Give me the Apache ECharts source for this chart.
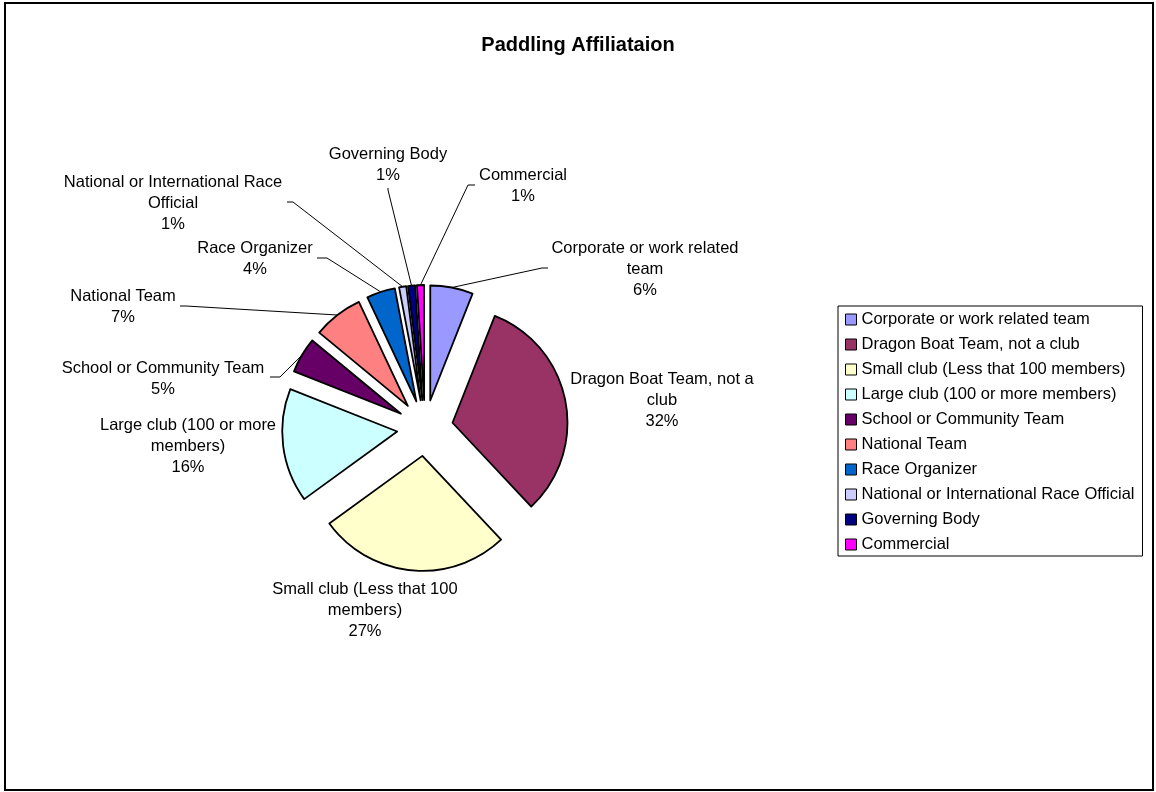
<!DOCTYPE html>
<html><head><meta charset="utf-8">
<script src="https://cdn.jsdelivr.net/npm/echarts@6/dist/echarts.min.js"></script>
<style>html,body{margin:0;padding:0;background:#fff}#c{width:1156px;height:792px}</style>
</head><body><div id="c"></div>
<script>
// ---- data ----
const categories = [
  'Corporate or work related team',
  'Dragon Boat Team, not a club',
  'Small club (Less that 100 members)',
  'Large club (100 or more members)',
  'School or Community Team',
  'National Team',
  'Race Organizer',
  'National or International Race Official',
  'Governing Body',
  'Commercial'
];
const percents = [6, 32, 27, 16, 5, 7, 4, 1, 1, 1];
const labelTexts = [
  'Corporate or work related\nteam',
  'Dragon Boat Team, not a\nclub',
  'Small club (Less that 100\nmembers)',
  'Large club (100 or more\nmembers)',
  'School or Community Team',
  'National Team',
  'Race Organizer',
  'National or International Race\nOfficial',
  'Governing Body',
  'Commercial'
];
const colors = ['#9999FF','#993366','#FFFFCC','#CCFFFF','#660066','#FF8080','#0066CC','#CCCCFF','#000080','#FF00FF'];

// ---- label layout (label centres and leader-line elbows) ----
const labelCenters = [[645,269],[662,400],[365,610],[188,446],[163,379],[123,307],[255,259],[173,203],[388,165],[523,186]];
const leaderEnds = [
  [[542,268],[548,268]], null, null, null,
  [[280,377],[270,377]],
  [[186,306],[180,306]],
  [[327,258],[317,258]],
  [[293,202],[287,202]],
  [[388,190],[388,188]],
  [[468,185],[475,185]]
];

const FONT = '"Liberation Sans", Arial, sans-serif';
const PIE_CENTER = [425, 428];
const PIE_R = 115;
const EXPLODE = 28;

const chart = echarts.init(document.getElementById('c'), null, {renderer: 'canvas'});

const sliceData = categories.map((name, i) => ({
  name: name,
  value: percents[i],
  selected: true,
  itemStyle: {color: colors[i]}
}));

const labelData = categories.map((name, i) => ({
  name: name,
  value: percents[i],
  label: {formatter: labelTexts[i] + '\n{d}%'},
  labelLine: {show: leaderEnds[i] != null}
}));

chart.setOption({
  animation: false,
  backgroundColor: '#fff',
  title: {
    text: 'Paddling Affiliataion',
    left: 'center',
    top: 30,
    textStyle: {fontSize: 20, fontWeight: 'bold', color: '#000', fontFamily: FONT}
  },
  legend: {
    orient: 'vertical',
    left: 838,
    top: 306,
    padding: [5, 8, 3, 7],
    itemGap: 8,
    itemWidth: 11,
    itemHeight: 11,
    icon: 'rect',
    borderColor: '#000',
    borderWidth: 1,
    selectedMode: false,
    itemStyle: {borderColor: '#000', borderWidth: 1},
    textStyle: {fontSize: 16.5, lineHeight: 17, color: '#000', fontFamily: FONT},
    data: categories.map((n, i) => ({name: n, itemStyle: {color: colors[i]}}))
  },
  graphic: [{
    type: 'rect',
    shape: {x: 5, y: 3, width: 1148, height: 787},
    style: {fill: 'none', stroke: '#000', lineWidth: 2},
    silent: true
  }],
  series: [{
    type: 'pie',
    name: 'slices',
    center: PIE_CENTER,
    radius: PIE_R,
    startAngle: 90,
    clockwise: true,
    selectedMode: 'multiple',
    selectedOffset: EXPLODE,
    itemStyle: {borderColor: '#000', borderWidth: 1.8},
    select: {itemStyle: {borderColor: '#000', borderWidth: 1.8}},
    emphasis: {disabled: true},
    label: {show: false},
    labelLine: {show: false},
    data: sliceData
  }, {
    type: 'pie',
    name: 'labels',
    center: PIE_CENTER,
    radius: PIE_R + EXPLODE,
    startAngle: 90,
    clockwise: true,
    silent: true,
    selectedMode: false,
    avoidLabelOverlap: false,
    percentPrecision: 0,
    itemStyle: {color: 'rgba(0,0,0,0)', borderWidth: 0},
    emphasis: {disabled: true},
    label: {
      show: true,
      position: 'outside',
      color: '#000',
      fontSize: 16.5,
      lineHeight: 21,
      fontFamily: FONT,
      align: 'center'
    },
    labelLine: {show: true, length: 5, length2: 5, lineStyle: {color: '#000', width: 1}},
    labelLayout: function (params) {
      const i = params.dataIndex;
      const c = labelCenters[i];
      const out = {x: c[0], y: c[1], align: 'center', verticalAlign: 'middle'};
      if (leaderEnds[i] && params.labelLinePoints) {
        out.labelLinePoints = [params.labelLinePoints[0]].concat(leaderEnds[i]);
      }
      return out;
    },
    data: labelData
  }]
});
</script>
</body></html>
